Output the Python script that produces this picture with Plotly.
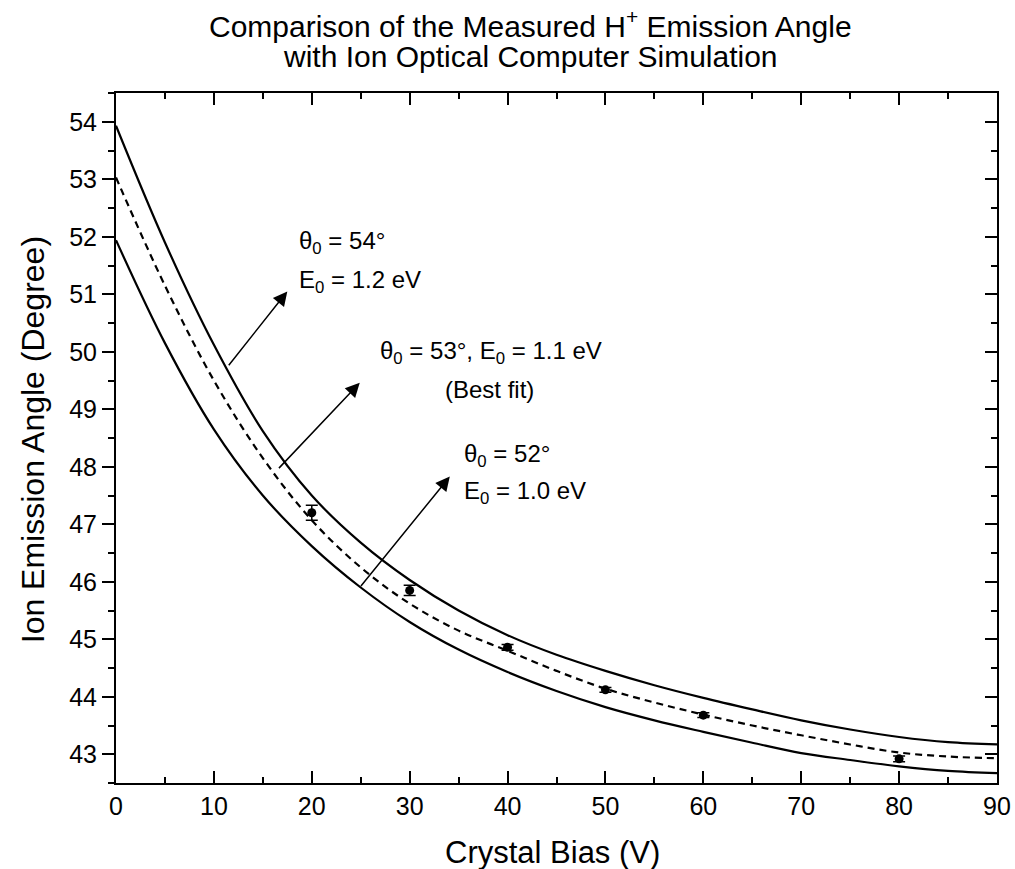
import plotly.graph_objects as go

# ---- data ----
bias_curve = [0, 5, 10, 15, 20, 25, 30, 35, 40, 45, 50, 55, 60, 65, 70, 75, 80, 85, 90]
angle_54 = [53.93, 51.90, 50.12, 48.62, 47.50, 46.68, 46.03, 45.50, 45.07, 44.73, 44.45,
            44.20, 43.98, 43.78, 43.59, 43.43, 43.30, 43.21, 43.17]
angle_53 = [53.03, 51.15, 49.50, 48.15, 47.07, 46.25, 45.62, 45.15, 44.80, 44.45, 44.14,
            43.90, 43.69, 43.50, 43.33, 43.17, 43.03, 42.96, 42.93]
angle_52 = [51.94, 50.15, 48.65, 47.50, 46.62, 45.90, 45.30, 44.82, 44.43, 44.10, 43.82,
            43.59, 43.39, 43.20, 43.02, 42.90, 42.79, 42.71, 42.67]

bias_meas = [20, 30, 40, 50, 60, 80]
angle_meas = [47.20, 45.85, 44.86, 44.12, 43.68, 42.92]
angle_err = [0.13, 0.09, 0.05, 0.04, 0.04, 0.05]

x_ticks = [0, 10, 20, 30, 40, 50, 60, 70, 80, 90]
y_ticks = [43, 44, 45, 46, 47, 48, 49, 50, 51, 52, 53, 54]

title_lines = ["Comparison of the Measured H<sup>+</sup> Emission Angle",
               "with Ion Optical Computer Simulation"]
x_title = "Crystal Bias (V)"
y_title = "Ion Emission Angle (Degree)"

FONT = "Arial, Liberation Sans, sans-serif"

fig = go.Figure()
fig.add_trace(go.Scatter(x=bias_curve, y=angle_54, mode="lines", line_shape="spline",
                         line=dict(color="black", width=2.2), showlegend=False))
fig.add_trace(go.Scatter(x=bias_curve, y=angle_53, mode="lines", line_shape="spline",
                         line=dict(color="black", width=2.2, dash="7px,5px"), showlegend=False))
fig.add_trace(go.Scatter(x=bias_curve, y=angle_52, mode="lines", line_shape="spline",
                         line=dict(color="black", width=2.2), showlegend=False))
fig.add_trace(go.Scatter(x=bias_meas, y=angle_meas, mode="markers",
                         marker=dict(color="black", size=9),
                         error_y=dict(type="data", array=angle_err, color="black",
                                      thickness=1.5, width=6),
                         showlegend=False))
# dummy trace to anchor right-hand axis
fig.add_trace(go.Scatter(x=[None], y=[None], yaxis="y2", showlegend=False, hoverinfo="skip"))

arrows = [
    (11.4, 49.74, 17.5, 51.05),
    (16.5, 47.95, 24.9, 49.46),
    (24.9, 45.90, 34.1, 47.83),
]
for x0, y0, x1, y1 in arrows:
    fig.add_annotation(x=x1, y=y1, ax=x0, ay=y0, xref="x", yref="y", axref="x", ayref="y",
                       showarrow=True, arrowhead=2, arrowsize=1.9, arrowwidth=1.5,
                       arrowcolor="black", text="")

labels = [
    ("θ<sub>0</sub> = 54°", 18.5, 51.90, "left"),
    ("E<sub>0</sub> = 1.2 eV", 18.5, 51.22, "left"),
    ("θ<sub>0</sub> = 53°, E<sub>0</sub> = 1.1 eV", 26.8, 49.98, "left"),
    ("(Best fit)", 38.2, 49.34, "center"),
    ("θ<sub>0</sub> = 52°", 35.3, 48.19, "left"),
    ("E<sub>0</sub> = 1.0 eV", 35.3, 47.55, "left"),
]
for txt, x, y, anc in labels:
    fig.add_annotation(x=x, y=y, xref="x", yref="y", text=txt, showarrow=False,
                       xanchor=anc, yanchor="middle",
                       font=dict(family=FONT, size=24, color="black"))

# title lines and axis titles as paper annotations
fig.add_annotation(x=0.47, y=1.10, xref="paper", yref="paper", text=title_lines[0],
                   showarrow=False, xanchor="center", yanchor="middle",
                   font=dict(family=FONT, size=30, color="black"))
fig.add_annotation(x=0.47, y=1.0525, xref="paper", yref="paper", text=title_lines[1],
                   showarrow=False, xanchor="center", yanchor="middle",
                   font=dict(family=FONT, size=30, color="black"))
fig.add_annotation(x=0.496, y=-0.10, xref="paper", yref="paper", text=x_title,
                   showarrow=False, xanchor="center", yanchor="middle",
                   font=dict(family=FONT, size=31, color="black"))
fig.add_annotation(x=-0.094, y=0.497, xref="paper", yref="paper", text=y_title,
                   showarrow=False, xanchor="center", yanchor="middle", textangle=-90,
                   font=dict(family=FONT, size=32, color="black"))

fig.update_layout(
    width=1015, height=869,
    margin=dict(l=116, r=18, t=93, b=86),
    paper_bgcolor="white", plot_bgcolor="white",
    xaxis=dict(range=[0, 90], tickvals=x_ticks, ticks="inside", ticklen=12, tickwidth=1.5,
               tickcolor="black", showline=True, linewidth=2, linecolor="black", mirror="ticks",
               showgrid=False, zeroline=False, automargin=False,
               minor=dict(dtick=5, tick0=0, ticks="inside", ticklen=6, tickwidth=1.5, tickcolor="black"),
               tickfont=dict(family=FONT, size=25, color="black")),
    yaxis=dict(range=[42.5, 54.5], tickvals=y_ticks, ticks="outside", ticklen=12, tickwidth=1.5,
               tickcolor="black", showline=True, linewidth=2, linecolor="black",
               showgrid=False, zeroline=False, automargin=False,
               minor=dict(dtick=0.5, tick0=42.5, ticks="outside", ticklen=6, tickwidth=1.5, tickcolor="black"),
               tickfont=dict(family=FONT, size=25, color="black")),
    yaxis2=dict(range=[42.5, 54.5], overlaying="y", side="right", matches="y",
                tickvals=y_ticks, ticks="inside", ticklen=12, tickwidth=1.5, tickcolor="black",
                showline=True, linewidth=2, linecolor="black", showticklabels=False,
                showgrid=False, zeroline=False, automargin=False,
                minor=dict(dtick=0.5, tick0=42.5, ticks="inside", ticklen=6, tickwidth=1.5, tickcolor="black")),
)

fig.write_html("out.html")
